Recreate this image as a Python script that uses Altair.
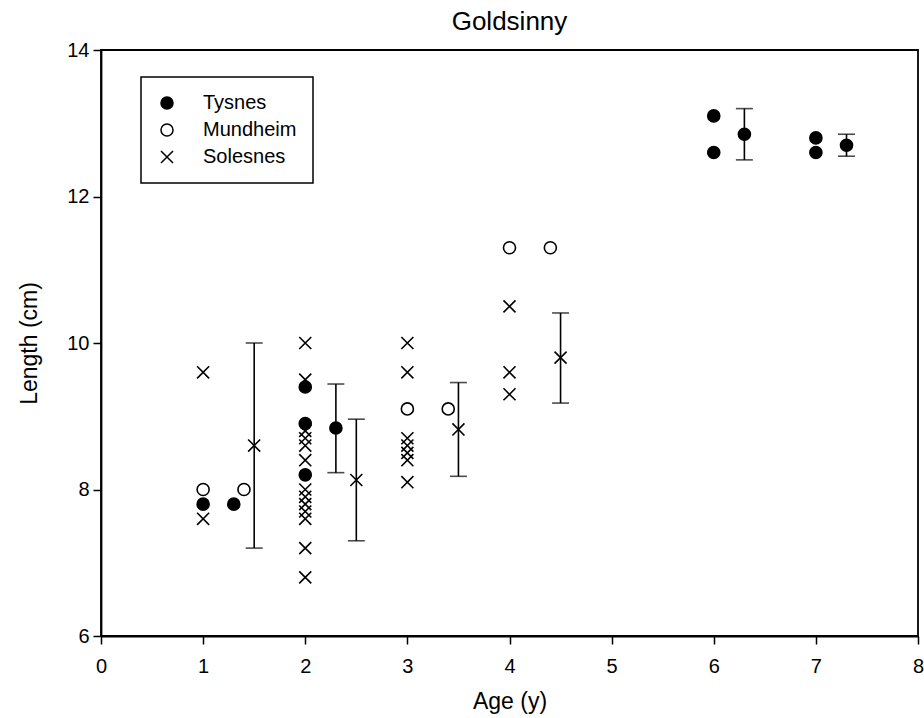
import altair as alt
import pandas as pd

sites = ["Tysnes", "Mundheim", "Solesnes"]
x_ticks = [0, 1, 2, 3, 4, 5, 6, 7, 8]
y_ticks = [6, 8, 10, 12, 14]

# individual observations
sol_age = [1, 1, 2, 2, 2, 2, 2, 2, 2, 2, 2, 2, 2, 2, 2, 3, 3, 3, 3, 3, 3, 3, 4, 4, 4]
sol_len = [9.6, 7.6, 10.0, 9.5, 8.8, 8.7, 8.6, 8.4, 8.0, 7.9, 7.8, 7.7, 7.6, 7.2, 6.8,
           10.0, 9.6, 8.7, 8.6, 8.5, 8.4, 8.1, 10.5, 9.6, 9.3]
mun_age = [1, 3, 4]
mun_len = [8.0, 9.1, 11.3]
tys_age = [1, 2, 2, 2, 6, 6, 7, 7]
tys_len = [7.8, 9.4, 8.9, 8.2, 13.1, 12.6, 12.8, 12.6]

# means (offset right of each age) with SD bars
mean_site = ["Solesnes", "Mundheim", "Tysnes", "Solesnes", "Tysnes", "Solesnes", "Mundheim",
             "Solesnes", "Mundheim", "Tysnes", "Tysnes"]
mean_age = [1.5, 1.4, 1.3, 2.5, 2.3, 3.5, 3.4, 4.5, 4.4, 6.3, 7.3]
mean_len = [8.6, 8.0, 7.8, 8.13, 8.84, 8.82, 9.1, 9.8, 11.3, 12.85, 12.7]
mean_lo = [7.2, None, None, 7.30, 8.23, 8.18, None, 9.18, None, 12.5, 12.55]
mean_hi = [10.0, None, None, 8.96, 9.44, 9.46, None, 10.41, None, 13.2, 12.85]

obs = pd.DataFrame({
    "site": ["Solesnes"] * len(sol_age) + ["Mundheim"] * len(mun_age) + ["Tysnes"] * len(tys_age),
    "age": sol_age + mun_age + tys_age,
    "length": sol_len + mun_len + tys_len,
})
means = pd.DataFrame({"site": mean_site, "age": mean_age, "length": mean_len,
                      "lo": mean_lo, "hi": mean_hi})
bars = means.dropna().reset_index(drop=True)

XPATH = "M-1,-1L1,1M-1,1L1,-1"

x_enc = alt.X("age:Q", scale=alt.Scale(domain=[0, 8], nice=False, zero=False),
              axis=alt.Axis(title="Age (y)", values=x_ticks, format="d", labelFlush=False))

def y_enc(field):
    return alt.Y(f"{field}:Q", scale=alt.Scale(domain=[6, 14], nice=False, zero=False),
                 axis=alt.Axis(title="Length (cm)", values=y_ticks, format="d", labelFlush=False))

legend_def = alt.Legend(title=None, symbolStrokeColor="black", symbolStrokeWidth=1.5)
shape_enc = alt.Shape("site:N", scale=alt.Scale(domain=sites, range=["circle", "circle", XPATH]),
                      legend=legend_def)
fill_enc = alt.Fill("site:N", scale=alt.Scale(domain=sites, range=["black", "white", "transparent"]),
                    legend=legend_def)
stroke_enc = alt.Stroke("site:N", scale=alt.Scale(domain=sites, range=["black", "black", "black"]),
                        legend=legend_def)

pt = dict(strokeWidth=1.6, size=145, opacity=1)

rules = alt.Chart(bars).mark_rule(color="black", strokeWidth=1.6).encode(
    x=x_enc, y=y_enc("lo"), y2="hi:Q")
cap_lo = alt.Chart(bars).mark_tick(color="black", orient="horizontal", size=17, thickness=1.6).encode(
    x=x_enc, y=y_enc("lo"))
cap_hi = alt.Chart(bars).mark_tick(color="black", orient="horizontal", size=17, thickness=1.6).encode(
    x=x_enc, y=y_enc("hi"))
pts = alt.Chart(obs).mark_point(**pt).encode(
    x=x_enc, y=y_enc("length"), shape=shape_enc, fill=fill_enc, stroke=stroke_enc)
mpts = alt.Chart(means).mark_point(**pt).encode(
    x=x_enc, y=y_enc("length"), shape=shape_enc, fill=fill_enc, stroke=stroke_enc)

FONT = "Liberation Sans"

chart = alt.layer(rules, cap_lo, cap_hi, pts, mpts).properties(
    width=817, height=586,
    title=alt.Title("Goldsinny", fontSize=26, font=FONT, fontWeight="normal", color="black",
                    offset=5, anchor="middle"),
    autosize=alt.AutoSizeParams(type="none"),
    padding={"left": 101, "top": 50, "right": 6, "bottom": 82},
).configure_view(
    stroke="black", strokeWidth=1.8
).configure_axis(
    grid=False, domainColor="black", domainWidth=1.8, tickColor="black", tickWidth=1.5,
    tickSize=8, labelFont=FONT, labelFontSize=20, labelColor="black", titleFont=FONT,
    titleFontSize=23, titleFontWeight="normal", titleColor="black"
).configure_axisX(
    labelPadding=12, titlePadding=14
).configure_axisY(
    labelPadding=4, titlePadding=25
).configure_legend(
    orient="none", legendX=40, legendY=27, strokeColor="black", strokeWidth=1.5,
    fillColor="white", padding=16, labelFont=FONT, labelFontSize=20, labelColor="black",
    rowPadding=7, symbolStrokeColor="black", symbolStrokeWidth=1.5, symbolSize=145,
    labelOffset=26, cornerRadius=0
)

chart.save("out.html", embed_options={"renderer": "svg", "actions": False})
